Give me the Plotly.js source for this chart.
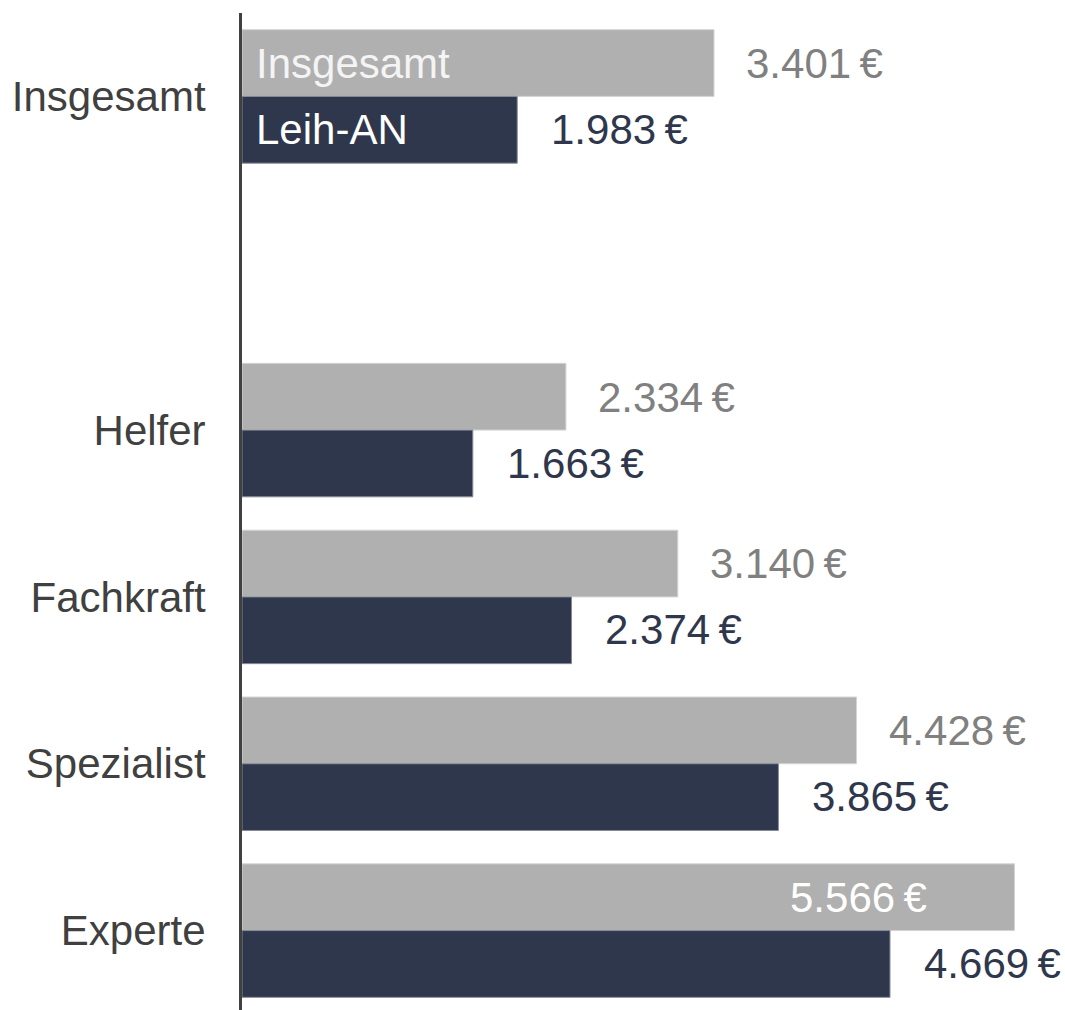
<!DOCTYPE html>
<html>
<head>
<meta charset="utf-8">
<script src="https://cdn.plot.ly/plotly-3.0.1.min.js"></script>
<style>html,body{margin:0;padding:0;background:#fff;overflow:hidden;}#chart{width:1065px;height:1014px;}</style>
</head>
<body>
<div id="chart"></div>
<script>
const categories = ["Insgesamt", " ", "Helfer", "Fachkraft", "Spezialist", "Experte"];
const seriesNames = ["Insgesamt", "Leih-AN"];
const insgesamtValues = [3401, null, 2334, 3140, 4428, 5566];
const leihANValues = [1983, null, 1663, 2374, 3865, 4669];

const GRAY = '#b0b0b0';
const NAVY = '#2f374d';
const FONT = '"Liberation Sans", Arial, sans-serif';

function fmt(v) {
  return String(v).replace(/\B(?=(\d{3})+(?!\d))/g, '.') + '\u2009€';
}

const traces = [
  {
    type: 'bar', orientation: 'h', name: seriesNames[0],
    y: categories, x: insgesamtValues,
    marker: {color: GRAY, line: {color: '#d4d4d4', width: 1}},
    hoverinfo: 'skip'
  },
  {
    type: 'bar', orientation: 'h', name: seriesNames[1],
    y: categories, x: leihANValues,
    marker: {color: NAVY, line: {color: '#858a96', width: 1}},
    hoverinfo: 'skip'
  }
];

const annotations = [];
const XMAX = 5930;
categories.forEach((c, i) => {
  const g = insgesamtValues[i], l = leihANValues[i];
  if (g != null) {
    const inside = g > XMAX * 0.9;
    annotations.push({
      x: g, y: c, xref: 'x', yref: 'y', showarrow: false,
      text: fmt(g), xanchor: inside ? 'right' : 'left',
      xshift: inside ? -85 : 30, yshift: 33,
      font: {family: FONT, size: 42, color: inside ? '#ffffff' : '#808080'}
    });
  }
  if (l != null) {
    annotations.push({
      x: l, y: c, xref: 'x', yref: 'y', showarrow: false,
      text: fmt(l), xanchor: 'left', xshift: 32, yshift: -33,
      font: {family: FONT, size: 42, color: NAVY}
    });
  }
});
// series labels inside the first group
annotations.push({
  x: 0, y: categories[0], xref: 'x', yref: 'y', showarrow: false,
  text: seriesNames[0], xanchor: 'left', xshift: 12, yshift: 33,
  font: {family: FONT, size: 42, color: '#f4f4f4'}
});
annotations.push({
  x: 0, y: categories[0], xref: 'x', yref: 'y', showarrow: false,
  text: seriesNames[1], xanchor: 'left', xshift: 12, yshift: -33,
  font: {family: FONT, size: 42, color: '#ffffff'}
});

const layout = {
  width: 1065, height: 1014,
  margin: {l: 242, r: 0, t: 13, b: 0, pad: 0},
  paper_bgcolor: '#ffffff', plot_bgcolor: '#ffffff',
  barmode: 'group', bargap: 0.2, bargroupgap: 0,
  showlegend: false,
  font: {family: FONT},
  xaxis: {range: [0, XMAX], visible: false, showgrid: false, zeroline: false},
  yaxis: {
    type: 'category', categoryorder: 'array', categoryarray: categories,
    autorange: 'reversed',
    showline: true, linecolor: '#404040', linewidth: 3,
    showgrid: false, zeroline: false, ticks: '',
    ticklabelstandoff: 25,
    tickfont: {family: FONT, size: 42, color: '#404040'}
  },
  annotations: annotations
};

Plotly.newPlot('chart', traces, layout, {displayModeBar: false, staticPlot: true});
</script>
</body>
</html>
